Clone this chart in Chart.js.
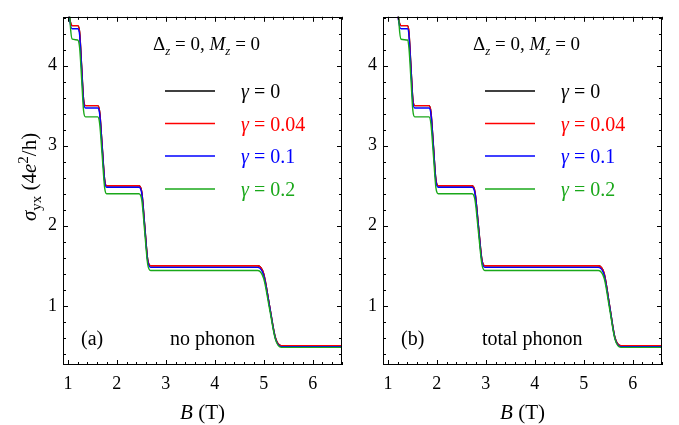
<!DOCTYPE html>
<html>
<head>
<meta charset="utf-8">
<script src="https://cdn.jsdelivr.net/npm/chart.js@4.4.1/dist/chart.umd.min.js"></script>
<style>
    html, body { margin: 0; padding: 0; background: #fff; }
    #wrap { position: relative; width: 679px; height: 425px; overflow: hidden; }
    canvas { position: absolute; top: 0; }
    #chartA { left: 0; }
    #chartB { left: 345px; }
</style>
</head>
<body>
<div id="wrap">
    <canvas id="chartA" width="350" height="425"></canvas>
    <canvas id="chartB" width="334" height="425"></canvas>
</div>
<script>
// B (T) sample points along each curve, panel (a) no phonon and panel (b) total phonon
const fieldA = [0.98, 1.02, 1.05, 1.09,
    1.20, 1.24, 1.28, 1.32, 1.36,
    1.61, 1.65, 1.70, 1.75, 1.79,
    2.45, 2.51, 2.57, 2.63, 2.69,
    4.88, 5.00, 5.12, 5.24, 5.36,
    6.70];
const fieldB = [1.16, 1.20, 1.23, 1.27,
    1.40, 1.43, 1.47, 1.51, 1.55,
    1.84, 1.88, 1.93, 1.98, 2.03,
    2.72, 2.78, 2.85, 2.92, 2.98,
    5.30, 5.42, 5.53, 5.64, 5.76,
    6.70];

// sigma_yx (4e^2/h) at those points, one array per gamma
const sigmaG0 = [5.5, 4.7, 4.55, 4.5,
    4.5, 4.42, 4.0, 3.58, 3.5,
    3.5, 3.42, 3.0, 2.58, 2.5,
    2.5, 2.42, 2.0, 1.58, 1.5,
    1.5, 1.4, 1.0, 0.6, 0.5,
    0.5];
const sigmaG004 = [5.5, 4.7, 4.55, 4.5,
    4.5, 4.42, 4.0, 3.58, 3.5,
    3.5, 3.42, 3.0, 2.58, 2.5,
    2.5, 2.42, 2.0, 1.58, 1.5,
    1.5, 1.4, 1.0, 0.6, 0.5,
    0.5];
const sigmaG01 = [5.5, 4.7, 4.52, 4.46,
    4.46, 4.38, 3.97, 3.55, 3.47,
    3.47, 3.39, 2.98, 2.56, 2.48,
    2.48, 2.40, 1.98, 1.56, 1.48,
    1.48, 1.38, 0.99, 0.59, 0.49,
    0.49];
const sigmaG02 = [5.5, 4.9, 4.5, 4.33,
    4.32, 4.22, 3.84, 3.44, 3.36,
    3.36, 3.27, 2.88, 2.48, 2.40,
    2.40, 2.32, 1.92, 1.52, 1.44,
    1.44, 1.34, 0.96, 0.58, 0.48,
    0.48];

const gammaLabels = ['0', '0.04', '0.1', '0.2'];
const seriesColors = ['#000000', '#ff0000', '#0000ff', '#1aa81a'];
const seriesValues = [sigmaG0, sigmaG004, sigmaG01, sigmaG02];

const xTicks = [1, 2, 3, 4, 5, 6];
const yTicks = [1, 2, 3, 4];

const SERIF = '"Liberation Serif", "Times New Roman", serif';

// draws a run of text pieces (italic / sub / sup), returns width
function drawRuns(ctx, runs, x, y, size, measureOnly) {
    let cx = x;
    runs.forEach(r => {
        const small = r.sub || r.sup;
        const s = small ? Math.round(size * 0.7) : size;
        ctx.font = (r.it ? 'italic ' : '') + s + 'px ' + SERIF;
        const dy = r.sub ? size * 0.25 : (r.sup ? -size * 0.38 : 0);
        cx += r.pad || 0;
        if (!measureOnly) ctx.fillText(r.t, cx, y + dy);
        cx += ctx.measureText(r.t).width + (r.pad || 0);
    });
    return cx - x;
}

// frame with inward ticks on all four sides, plus the annotations
const framePlugin = {
    id: 'frame',
    afterDraw(chart, args, opts) {
        const ctx = chart.ctx;
        const a = chart.chartArea;
        const xs = chart.scales.x, ys = chart.scales.y;
        ctx.save();
        ctx.strokeStyle = '#000';
        ctx.lineWidth = 1;
        ctx.strokeRect(Math.round(a.left) + 0.5, Math.round(a.top) + 0.5,
            Math.round(a.right - a.left) - 1, Math.round(a.bottom - a.top) - 1);

        ctx.beginPath();
        for (let v = 1; v <= 6.61; v += 0.2) {
            const px = Math.round(xs.getPixelForValue(v)) + 0.5;
            const major = Math.abs(v - Math.round(v)) < 0.01;
            const len = major ? 5 : 3;
            ctx.moveTo(px, a.bottom); ctx.lineTo(px, a.bottom - len);
            ctx.moveTo(px, a.top); ctx.lineTo(px, a.top + len);
        }
        for (let v = 0.4; v <= 4.61; v += 0.2) {
            const py = Math.round(ys.getPixelForValue(v)) + 0.5;
            const major = Math.abs(v - Math.round(v)) < 0.01;
            const len = major ? 5 : 3;
            ctx.moveTo(a.left, py); ctx.lineTo(a.left + len, py);
            ctx.moveTo(a.right, py); ctx.lineTo(a.right - len, py);
        }
        ctx.stroke();

        ctx.textBaseline = 'alphabetic';
        ctx.textAlign = 'left';
        ctx.fillStyle = '#000';

        // parameter line
        drawRuns(ctx, [
            {t: 'Δ'}, {t: 'z', it: true, sub: true}, {t: ' = 0, '},
            {t: 'M', it: true}, {t: 'z', it: true, sub: true}, {t: ' = 0'}
        ], a.left + 90, 50, 19);

        // legend
        const legY = [91, 123.5, 156, 189];
        seriesColors.forEach((c, i) => {
            ctx.strokeStyle = c;
            ctx.lineWidth = 1.3;
            ctx.beginPath();
            ctx.moveTo(a.left + 102, legY[i]);
            ctx.lineTo(a.left + 152, legY[i]);
            ctx.stroke();
            ctx.fillStyle = c;
            drawRuns(ctx, [{t: 'γ', it: true}, {t: '=', pad: 5}, {t: gammaLabels[i]}],
                a.left + 178, legY[i] + 7, 20);
        });

        ctx.fillStyle = '#000';
        ctx.font = '20px ' + SERIF;
        ctx.fillText(opts.tag, a.left + 18, 345);
        ctx.fillText(opts.note, a.left + opts.noteX, 345);

        // x axis title
        const xt = [{t: 'B', it: true}, {t: ' (T)'}];
        const xw = drawRuns(ctx, xt, 0, 0, 21, true);
        drawRuns(ctx, xt, (a.left + a.right) / 2 - xw / 2, 419, 21);

        // y axis title
        if (opts.yTitle) {
            const yt = [{t: 'σ', it: true}, {t: 'yx', sub: true}, {t: ' (4'},
                {t: 'e', it: true}, {t: '2', sup: true}, {t: '/h)'}];
            const yw = drawRuns(ctx, yt, 0, 0, 21, true);
            ctx.translate(36, 177);
            ctx.rotate(-Math.PI / 2);
            drawRuns(ctx, yt, -yw / 2, 0, 21);
        }
        ctx.restore();
    }
};

function makeChart(id, field, yWidth, padRight, frameOpts) {
    const datasets = seriesValues.map((vals, i) => ({
        label: 'γ = ' + gammaLabels[i],
        data: field.map((b, k) => ({x: b, y: vals[k]})),
        borderColor: seriesColors[i],
        borderWidth: 1.4,
        pointRadius: 0,
        fill: false,
        cubicInterpolationMode: 'monotone',
        order: 3 - i
    }));

    new Chart(document.getElementById(id), {
        type: 'line',
        data: { datasets: datasets },
        plugins: [framePlugin],
        options: {
            responsive: false,
            animation: false,
            events: [],
            layout: { padding: { top: 8, right: padRight, left: 0, bottom: 0 } },
            scales: {
                x: {
                    type: 'linear',
                    min: 0.9,
                    max: 6.6,
                    grid: { display: false, drawTicks: false },
                    border: { display: false },
                    afterBuildTicks: s => { s.ticks = xTicks.map(v => ({ value: v })); },
                    afterFit: s => { s.height = 60; },
                    ticks: {
                        color: '#000',
                        padding: 8,
                        maxRotation: 0,
                        font: { family: SERIF, size: 18 }
                    }
                },
                y: {
                    type: 'linear',
                    min: 0.26,
                    max: 4.61,
                    grid: { display: false, drawTicks: false },
                    border: { display: false },
                    afterBuildTicks: s => { s.ticks = yTicks.map(v => ({ value: v })); },
                    afterFit: s => { s.width = yWidth; },
                    ticks: {
                        color: '#000',
                        padding: 6,
                        font: { family: SERIF, size: 18 }
                    }
                }
            },
            plugins: {
                legend: { display: false },
                tooltip: { enabled: false },
                frame: frameOpts
            }
        }
    });
}

makeChart('chartA', fieldA, 63, 8, { tag: '(a)', note: 'no phonon', noteX: 107, yTitle: true });
makeChart('chartB', fieldB, 38, 17, { tag: '(b)', note: 'total phonon', noteX: 99, yTitle: false });
</script>
</body>
</html>
